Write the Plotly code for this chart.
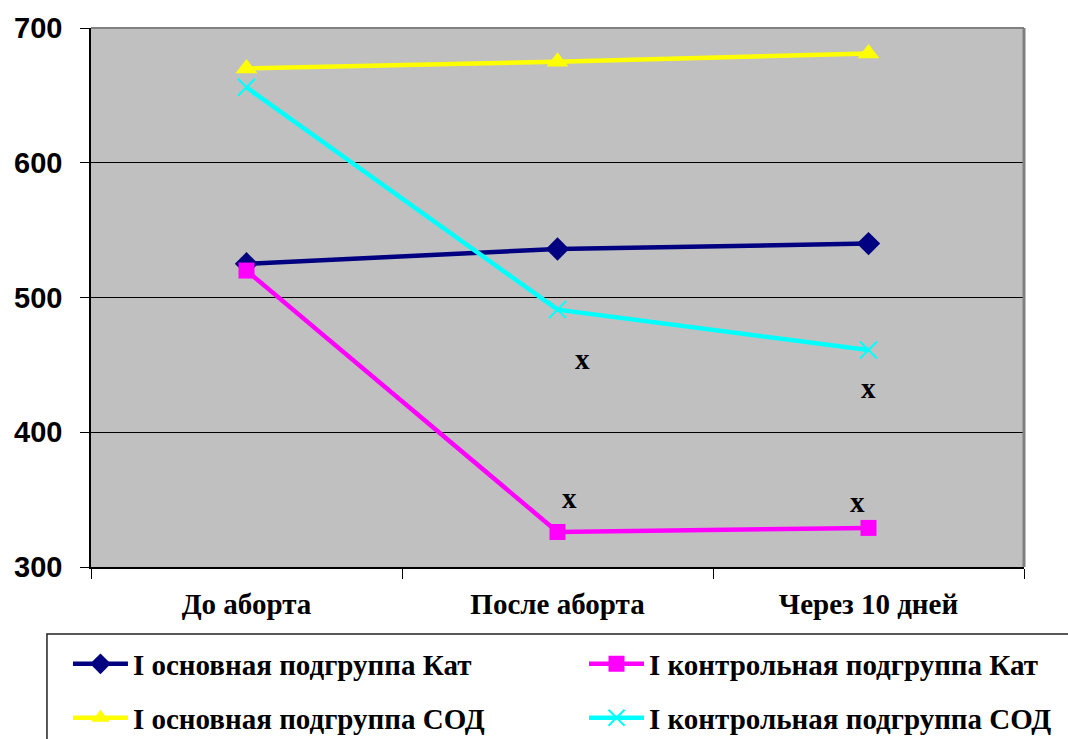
import plotly.graph_objects as go

categories = ["До аборта", "После аборта", "Через 10 дней"]

kat_main = [525, 536, 540]
kat_control = [520, 326, 329]
sod_main = [670, 675, 681]
sod_control = [656, 491, 461]

series_names = [
    "I основная подгруппа Кат",
    "I контрольная подгруппа Кат",
    "I основная подгруппа СОД",
    "I контрольная подгруппа СОД",
]

# significance marks: (category index, value)
sig_x = [1.08, 1.04, 2.0, 1.965]
sig_y = [454, 351, 433, 348]

SERIF = "Liberation Serif, Times New Roman, serif"
SANS = "Liberation Sans, Arial, sans-serif"

fig = go.Figure()

styles = [
    (kat_main, "#000080", dict(symbol="diamond", size=18), "legend"),
    (kat_control, "#FF00FF", dict(symbol="square", size=16), "legend2"),
    (sod_main, "#FFFF00", dict(symbol="triangle-up", size=19), "legend3"),
    (sod_control, "#00FFFF", dict(symbol="x-thin", size=17,
                                  line=dict(width=2, color="#00FFFF")), "legend4"),
]

for name, (vals, color, marker, leg) in zip(series_names, styles):
    fig.add_trace(go.Scatter(
        x=categories, y=vals, name=name, mode="lines+markers",
        line=dict(color=color, width=4.5),
        marker=dict(color=color, **marker),
        legend=leg,
    ))

for xs, ys in zip(sig_x, sig_y):
    fig.add_annotation(x=xs, y=ys, xref="x", yref="y", text="x",
                       showarrow=False,
                       font=dict(family=SERIF, size=29, color="black", weight="bold"))

# legend frame, running past the page edge on the right and bottom
fig.add_shape(type="rect", xref="paper", yref="paper",
              x0=-0.0472, x1=1.2, y0=-0.4, y1=-0.1243,
              line=dict(color="#222222", width=1.5), fillcolor="rgba(0,0,0,0)")

# grey frame on the top and right of the plot area
fig.add_shape(type="line", xref="paper", yref="paper", x0=0, x1=1, y0=1, y1=1,
              line=dict(color="#808080", width=2))
fig.add_shape(type="line", xref="paper", yref="paper", x0=1, x1=1, y0=0, y1=1,
              line=dict(color="#808080", width=3))


def legend_box(x, y):
    return dict(
        x=x, y=y, orientation="h",
        font=dict(family=SERIF, size=29, color="black", weight="bold"),
        bgcolor="rgba(0,0,0,0)", itemwidth=55,
        xanchor="left", yanchor="middle",
        itemclick=False, itemdoubleclick=False,
    )


fig.update_layout(
    width=1068, height=739,
    margin=dict(l=91, r=44, t=28, b=172, autoexpand=False),
    paper_bgcolor="white", plot_bgcolor="#C0C0C0",
    showlegend=True,
    legend=legend_box(-0.0247, -0.180),
    legend2=legend_box(0.5284, -0.180),
    legend3=legend_box(-0.0247, -0.280),
    legend4=legend_box(0.5284, -0.280),
    xaxis=dict(
        type="category", range=[-0.5, 2.5],
        showgrid=False, zeroline=False,
        showline=True, linecolor="black", linewidth=1.5,
        ticks="outside", tickson="boundaries", ticklen=10,
        tickcolor="black", tickwidth=1,
        tickfont=dict(family=SERIF, size=29, color="black", weight="bold"),
        ticklabelstandoff=10,
    ),
    yaxis=dict(
        range=[300, 700], dtick=100, tick0=300,
        showgrid=True, gridcolor="black", gridwidth=1,
        zeroline=False, showline=True, linecolor="black", linewidth=1.5,
        ticks="outside", ticklen=9, tickcolor="black", tickwidth=1,
        tickfont=dict(family=SANS, size=29, color="black", weight="bold"),
        ticklabelstandoff=12,
    ),
)

fig.write_html("out.html")
